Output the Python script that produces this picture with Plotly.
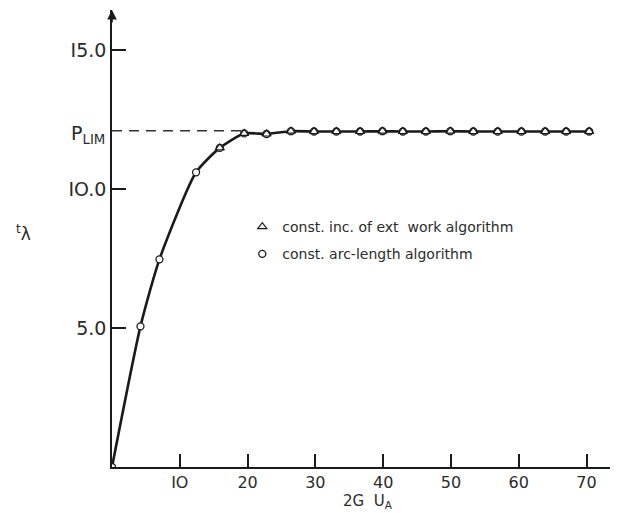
import plotly.graph_objects as go

# Data
x_curve = [0, 4.2, 7.0, 12.4, 15.9, 19.5, 22.8, 26.4, 29.8, 33.1, 36.6, 39.9, 42.9,
           46.3, 49.9, 53.3, 56.9, 60.4, 63.9, 67.0, 70.4]
y_curve = [0, 5.06, 7.47, 10.6, 11.48, 12.0, 11.98, 12.08, 12.07, 12.07, 12.07, 12.08,
           12.07, 12.07, 12.08, 12.07, 12.07, 12.07, 12.07, 12.07, 12.07]

x_arc = x_curve
y_arc = y_curve

x_work = [15.9, 19.5, 22.8, 26.4, 29.8, 33.1, 36.6, 39.9, 42.9, 46.3, 49.9, 53.3,
          56.9, 60.4, 63.9, 67.0, 70.4]
y_work = [11.48, 12.0, 11.98, 12.08, 12.07, 12.07, 12.07, 12.08, 12.07, 12.07, 12.08,
          12.07, 12.07, 12.07, 12.07, 12.07, 12.07]

p_lim = 12.1
x_ticks = [10, 20, 30, 40, 50, 60, 70]
x_ticklabels = ["IO", "20", "30", "40", "50", "60", "70"]
y_ticks = [5, 10, 15]
y_ticklabels = ["5.0", "IO.0", "I5.0"]

X_MAX = 74.5
Y_MAX = 16.44
INK = "#1a1a1a"
TXT = "#2b2b2b"
FONT = "DejaVu Sans"

fig = go.Figure()

# P_LIM dashed reference
fig.add_trace(go.Scatter(x=[0, 20], y=[p_lim, p_lim], mode="lines",
                         line=dict(color="#333", width=1.5, dash="10px,7px"),
                         showlegend=False, hoverinfo="skip"))

# Main curve
fig.add_trace(go.Scatter(x=x_curve, y=y_curve, mode="lines",
                         line=dict(color=INK, width=2.6, shape="spline", smoothing=0.6),
                         showlegend=False, hoverinfo="skip"))

# Markers
fig.add_trace(go.Scatter(x=x_arc, y=y_arc, mode="markers",
                         name="const. arc-length algorithm",
                         legendgroup="b", legendrank=2,
                         marker=dict(symbol="circle", size=7, color="white",
                                     line=dict(color=INK, width=1.3))))
fig.add_trace(go.Scatter(x=x_work, y=y_work, mode="markers",
                         name="const. inc. of ext  work algorithm",
                         legendgroup="a", legendrank=1,
                         marker=dict(symbol="triangle-up-open", size=8, color=INK,
                                     line=dict(color=INK, width=1.2))))

fig.update_layout(
    width=610, height=505,
    margin=dict(l=104, r=1, t=2, b=46),
    paper_bgcolor="white", plot_bgcolor="white",
    font=dict(family=FONT, color=TXT),
    showlegend=True,
    legend=dict(x=0.258, y=0.56, xanchor="left", yanchor="top",
                bgcolor="rgba(0,0,0,0)", font=dict(size=14, color=TXT, family=FONT),
                tracegroupgap=6, itemwidth=30),
    xaxis=dict(range=[0, X_MAX], showgrid=False, zeroline=False,
               showline=True, linecolor=INK, linewidth=1.5,
               ticks="inside", ticklen=13, tickwidth=1.5, tickcolor=INK,
               tickvals=x_ticks, ticktext=x_ticklabels,
               tickfont=dict(size=16, color=TXT), fixedrange=True),
    yaxis=dict(range=[0, Y_MAX], showgrid=False, zeroline=False,
               showline=True, linecolor=INK, linewidth=1.5,
               ticks="inside", ticklen=14, tickwidth=1.5, tickcolor=INK,
               tickvals=y_ticks, ticktext=y_ticklabels,
               tickfont=dict(size=19, color=TXT), fixedrange=True),
)

# Y-axis arrowhead
fig.add_annotation(x=0, y=Y_MAX, xref="x", yref="y", ax=0, ay=14, axref="pixel", ayref="pixel",
                   text="", showarrow=True, arrowhead=2, arrowsize=1.2, arrowwidth=1.6,
                   arrowcolor=INK)

# P_LIM label
fig.add_annotation(x=0, y=p_lim, xref="x", yref="y", xanchor="right", yanchor="middle",
                   xshift=-5, yshift=-4, showarrow=False,
                   text="P<sub>LIM</sub>", font=dict(size=19, color=TXT))

# Y title
fig.add_annotation(x=-0.175, y=0.512, xref="paper", yref="paper", showarrow=False,
                   xanchor="center", yanchor="middle",
                   text="<sup>t</sup>λ", font=dict(size=17, color=TXT))

# X title
fig.add_annotation(x=0.507, y=-0.076, xref="paper", yref="paper", showarrow=False,
                   xanchor="center", yanchor="middle",
                   text="2G  U<sub>A</sub>", font=dict(size=15, color=TXT))

fig.write_html("out.html")
